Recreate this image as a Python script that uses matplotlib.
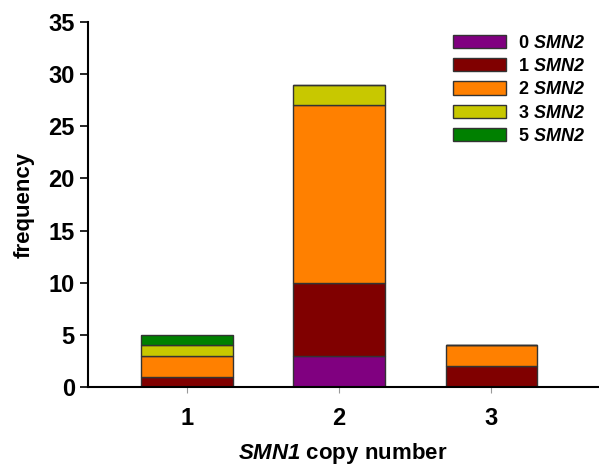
import numpy as np
import matplotlib
matplotlib.use("Agg")
import matplotlib.pyplot as plt

plt.rcParams['font.family'] = ['Liberation Sans', 'DejaVu Sans']
plt.rcParams['font.weight'] = 'bold'
# gene names: bold italic, digits included
plt.rcParams['mathtext.fontset'] = 'custom'
plt.rcParams['mathtext.it'] = 'Liberation Sans:italic:bold'
plt.rcParams['mathtext.rm'] = 'Liberation Sans:italic:bold'
plt.rcParams['mathtext.bf'] = 'Liberation Sans:bold'

# SMN1 copy number categories
smn1 = [1, 2, 3]
# counts per SMN2 copy number, stacked bottom to top
smn2_labels = ['0', '1', '2', '3', '5']
counts_0 = [0, 3, 0]
counts_1 = [1, 7, 2]
counts_2 = [2, 17, 2]
counts_3 = [1, 2, 0]
counts_5 = [1, 0, 0]
colors = ['#800080', '#800000', '#ff8000', '#c8c800', '#008000']

series = [counts_0, counts_1, counts_2, counts_3, counts_5]

fig = plt.figure(figsize=(5.99, 4.67), dpi=100)
ax = fig.add_axes([0.147, 0.171, 0.851, 0.782])

bottom = np.zeros(len(smn1))
for lab, vals, col in zip(smn2_labels, series, colors):
    ax.bar(smn1, vals, bottom=bottom, width=0.6, color=col, edgecolor='#333333',
           linewidth=1.0, label=lab + r' $\mathit{SMN2}$')
    bottom += np.array(vals)

ax.set_xlim(0.35, 3.7)
ax.set_ylim(0, 35)
ax.set_yticks(range(0, 36, 5))
ax.set_xticks(smn1)
ax.tick_params(axis='y', labelsize=17, width=1.2, length=6, direction='out')
ax.tick_params(axis='x', labelsize=17, width=0.8, length=4, color='#999999', pad=10)
for t in ax.get_xticklabels() + ax.get_yticklabels():
    t.set_fontweight('bold')

ax.spines['top'].set_visible(False)
ax.spines['right'].set_visible(False)
ax.spines['left'].set_linewidth(1.5)
ax.spines['bottom'].set_linewidth(1.5)

ax.set_ylabel('frequency', fontsize=16, fontweight='bold', labelpad=10)
ax.set_xlabel(r'$\mathit{SMN1}$ copy number', fontsize=16, fontweight='bold', labelpad=8)

leg = ax.legend(loc='upper right', frameon=False, fontsize=13, handlelength=2.9,
                handleheight=0.75, labelspacing=0.35, borderaxespad=0.3,
                handletextpad=0.7, bbox_to_anchor=(1.0, 1.0))

fig.savefig('out.png', dpi=100)
